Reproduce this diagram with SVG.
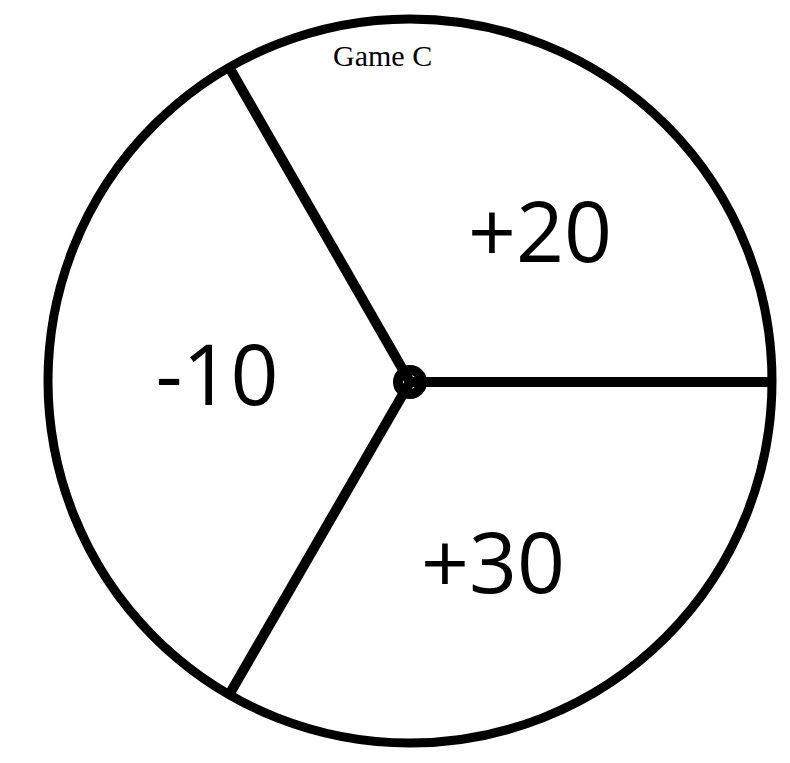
<svg xmlns="http://www.w3.org/2000/svg" width="790" height="763" viewBox="0 0 790 763">
<style>
.ln{stroke:#000;stroke-width:10;fill:none;stroke-linecap:butt}
.num{font-family:"Open Sans","Noto Sans",sans-serif;font-size:84px;fill:#000;text-anchor:middle}
.ttl{font-family:"Liberation Serif","Times New Roman",serif;font-size:30px;fill:#000}
</style>
<rect width="790" height="763" fill="#fff"/>
<g id="wheel">
<circle cx="410" cy="381" r="362" fill="none" stroke="#000" stroke-width="9"/>
</g>
<g id="connectors">
<line class="ln" x1="410" y1="382" x2="772" y2="382"/>
<line class="ln" x1="410" y1="382" x2="229" y2="67"/>
<line class="ln" x1="410" y1="382" x2="229" y2="695"/>
</g>
<g id="hub">
<circle cx="410" cy="382" r="12" fill="none" stroke="#000" stroke-width="10"/>
</g>
<g id="title"><text class="ttl" x="333" y="66">Game C</text></g>
<g id="seg-20"><text class="num" x="540" y="262">+20</text></g>
<g id="seg-10"><text class="num" x="217" y="405">-10</text></g>
<g id="seg-30"><text class="num" x="493" y="593">+30</text></g>
</svg>
